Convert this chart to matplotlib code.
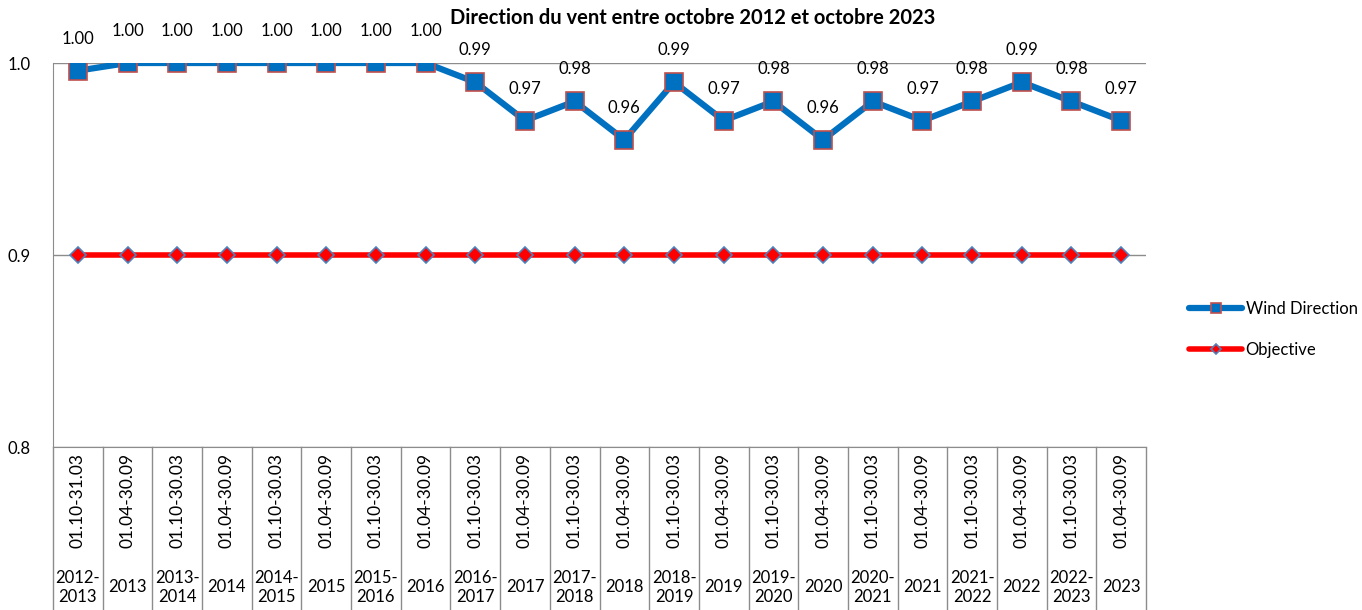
import matplotlib.pyplot as plt
import matplotlib.transforms as mtransforms

periods = ['01.10-31.03', '01.04-30.09', '01.10-30.03', '01.04-30.09', '01.10-30.03',
           '01.04-30.09', '01.10-30.03', '01.04-30.09', '01.10-30.03', '01.04-30.09',
           '01.10-30.03', '01.04-30.09', '01.10-30.03', '01.04-30.09', '01.10-30.03',
           '01.04-30.09', '01.10-30.03', '01.04-30.09', '01.10-30.03', '01.04-30.09',
           '01.10-30.03', '01.04-30.09']
years = ['2012-\n2013', '2013', '2013-\n2014', '2014', '2014-\n2015', '2015', '2015-\n2016',
         '2016', '2016-\n2017', '2017', '2017-\n2018', '2018', '2018-\n2019', '2019',
         '2019-\n2020', '2020', '2020-\n2021', '2021', '2021-\n2022', '2022', '2022-\n2023', '2023']
wind_direction = [0.996, 1.00, 1.00, 1.00, 1.00, 1.00, 1.00, 1.00, 0.99, 0.97, 0.98,
                  0.96, 0.99, 0.97, 0.98, 0.96, 0.98, 0.97, 0.98, 0.99, 0.98, 0.97]
objective = [0.9] * 22

plt.rcParams['font.family'] = ['Lato', 'DejaVu Sans']

fig = plt.figure(figsize=(13.62, 6.10), dpi=100)
ax = fig.add_axes([53 / 1362, 1 - 447 / 610, (1146 - 53) / 1362, 384 / 610])

x = list(range(len(wind_direction)))
grid_c = '#8c8c8c'

ax.plot(x, wind_direction, color='#0070C0', lw=4.5, marker='s', markersize=13,
        markerfacecolor='#0070C0', markeredgecolor='#C0504D', markeredgewidth=1.2,
        label='Wind Direction', zorder=3, solid_capstyle='round')
ax.plot(x, objective, color='#FF0000', lw=4, marker='D', markersize=8,
        markerfacecolor='#FF0000', markeredgecolor='#4F81BD', markeredgewidth=1.2,
        label='Objective', zorder=3, solid_capstyle='round')

for xi, v in zip(x, wind_direction):
    ax.annotate(f'{v:.2f}', (xi, v), xytext=(0, 23), textcoords='offset points',
                ha='center', va='center', fontsize=12, annotation_clip=False)

ax.set_xlim(-0.5, len(x) - 0.5)
ax.set_ylim(0.8, 1.0)
ax.set_yticks([0.8, 0.9, 1.0])
ax.set_yticklabels(['0.8', '0.9', '1.0'], fontsize=12)
ax.tick_params(axis='y', length=0, pad=16)
ax.set_xticks([])
ax.yaxis.grid(True, color=grid_c, lw=1)
ax.set_axisbelow(True)
for s in ['top', 'right']:
    ax.spines[s].set_visible(False)
for s in ['left', 'bottom']:
    ax.spines[s].set_color(grid_c)

# two-level category axis
trans = mtransforms.blended_transform_factory(ax.transData, ax.transAxes)
bottom = -(610 - 447) / 384
for b in range(len(x) + 1):
    ax.plot([b - 0.5, b - 0.5], [0, bottom], transform=trans, color=grid_c, lw=1,
            clip_on=False)
for xi in x:
    ax.text(xi, -0.14, periods[xi], transform=trans, rotation=90, ha='center',
            va='center', fontsize=12.5, clip_on=False)
    ax.text(xi, -0.365, years[xi], transform=trans, ha='center', va='center',
            fontsize=12, linespacing=1.25, clip_on=False)

fig.text(693 / 1362, 1 - 18 / 610, 'Direction du vent entre octobre 2012 et octobre 2023',
         ha='center', va='center', fontsize=14.5, fontweight='bold')

fig.legend(loc='center left', bbox_to_anchor=(1174 / 1362, 1 - 329 / 610), frameon=False,
           fontsize=12, handlelength=3.2, labelspacing=1.5, handletextpad=0.2,
           markerscale=0.6)

fig.savefig('out.png', dpi=100)
